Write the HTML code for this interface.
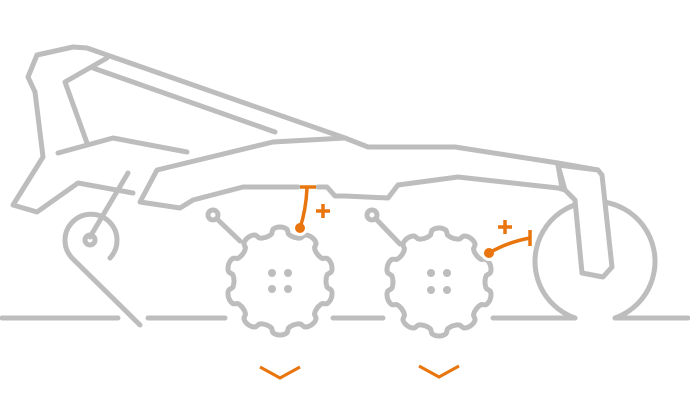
<!DOCTYPE html>
<html><head><meta charset="utf-8"><style>html,body{margin:0;padding:0;background:#fff}svg{display:block}</style></head>
<body>
<svg id="s" width="690" height="414" viewBox="0 0 690 414" xmlns="http://www.w3.org/2000/svg">
<g fill="none" stroke="#bdbdbd" stroke-width="5" stroke-linejoin="round" stroke-linecap="round">
  <path d="M2 318H118M148 318H225M333 318H383M493 318H575M617 318H688"/>
  <path d="M575 318 A60 60 0 1 1 615 318"/>
  <path d="M345 138 L87 48 L73 47 L37 55 L28 77 L35 92 L43 157 L13 205 L37 212 L78 183 L133 193"/>
  <path d="M107 58 L65 82 L87 143"/>
  <path d="M93 68 L275 132"/>
  <path d="M58 153 L113 138 L187 152"/>
  <path d="M345 138 L273 142 L157 170 L140 202 L180 208 L193 200 L243 187 L298 187"/>
  <path d="M318 187 L327 187 L335 196 L345 196 L388 198 L398 185 L458 177 L558 188 L565 190"/>
  <path d="M345 138 L368 147 L455 147 L558 163 L598 170"/>
  <path d="M558 165 L562 188"/>
  <path fill="#fff" d="M558 165 L598 170 L602 175 L612 267 L603 277 L582 273 L575 200 L565 190 Z"/>
  <circle cx="90" cy="240" r="5"/>
  <path d="M90 237 L128 173"/>
  <path d="M110 258 A26 26 0 1 0 72 258 L140 325"/>
  <circle cx="213" cy="215" r="5"/><path d="M217 219 L240 241"/>
  <circle cx="372" cy="215" r="5"/><path d="M376 219 L400 244"/>
  <path id="g1"/><path id="g2"/>
</g>
<g fill="#bdbdbd">
  <circle cx="272" cy="273" r="4"/><circle cx="288" cy="273" r="4"/><circle cx="272" cy="289" r="4"/><circle cx="288" cy="289" r="4"/>
  <circle cx="431" cy="273" r="4"/><circle cx="447" cy="273" r="4"/><circle cx="431" cy="290" r="4"/><circle cx="447" cy="290" r="4"/>
</g>
<g fill="none" stroke="#e8750e" stroke-width="3.5" stroke-linecap="butt">
  <circle cx="300" cy="228" r="8" fill="#fff" stroke="none"/>
  <path d="M300 228 Q306 210 307 188"/>
  <path d="M300 187 H316"/>
  <path d="M316 211 H330 M323 204 V218"/>
  <circle cx="489" cy="253" r="8" fill="#fff" stroke="none"/>
  <path d="M489 253 Q508 242 530 238"/>
  <path d="M530 230 V246"/>
  <path d="M498 227 H512 M505 220 V234"/>
  <path d="M260 367 L280 378 L300 367 M419 366 L439 377 L459 366" stroke-width="3"/>
</g>
<g fill="#e8750e"><circle cx="300" cy="228" r="5"/><circle cx="489" cy="253" r="5"/></g>
</svg>
<script>
function gear(cx,cy,rot){var d="",N=360;for(var i=0;i<=N;i++){var t=i/N*2*Math.PI;var c=Math.cos(10*(t-rot));var r=50+4*Math.sign(c)*Math.pow(Math.abs(c),0.4);var x=cx+r*Math.cos(t),y=cy+r*Math.sin(t);d+=(i?"L":"M")+x.toFixed(1)+" "+y.toFixed(1);}return d+"Z";}
document.getElementById("g1").setAttribute("d",gear(280,281,-Math.PI/2));
document.getElementById("g2").setAttribute("d",gear(439,282,-Math.PI/2));
</script>
</body></html>
